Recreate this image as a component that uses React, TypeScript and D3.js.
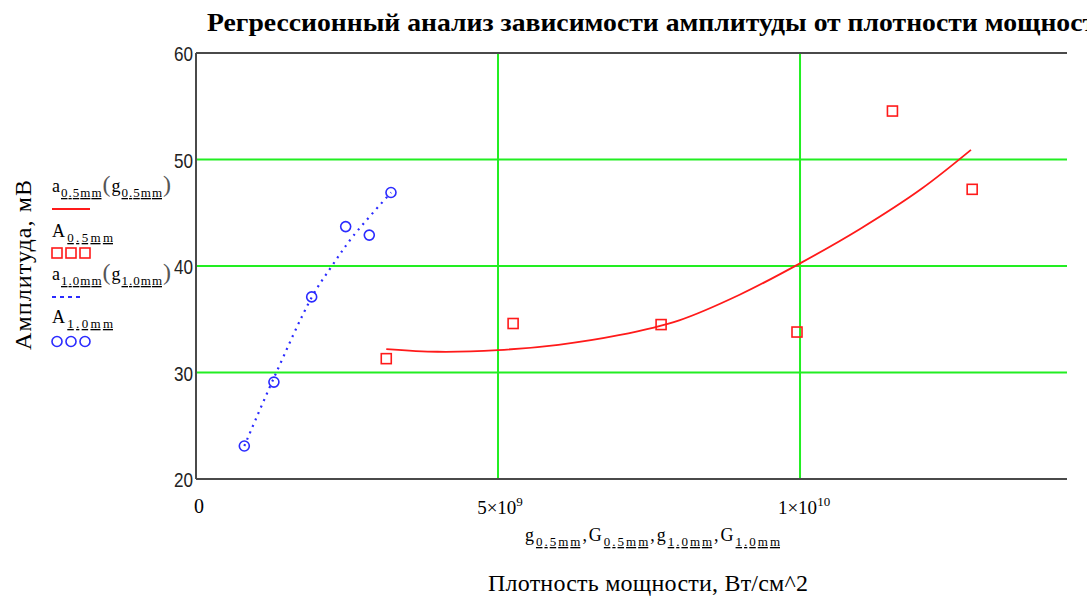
import React from "react";
import * as d3 from "d3";

// ---- data ----
const gHalf = [3.15e9, 5.25e9, 7.7e9, 9.95e9, 11.53e9, 12.85e9];
const AHalf = [31.3, 34.6, 34.5, 33.8, 54.55, 47.2];

const gOne = [0.8e9, 1.29e9, 1.915e9, 2.478e9, 2.869e9, 3.228e9];
const AOne = [23.1, 29.1, 37.1, 43.7, 42.9, 46.9];

// regression curves
const fitHalfG = [3.15, 4.0, 5.0, 6.0, 7.0, 8.0, 9.0, 10.0, 11.0, 12.0, 12.83].map((v) => v * 1e9);
const fitHalfA = [32.2, 31.95, 32.1, 32.6, 33.5, 34.9, 37.3, 40.25, 43.5, 47.2, 50.9];

const fitOneG = [0.8, 1.29, 1.92, 2.25, 2.6, 3.23].map((v) => v * 1e9);
const fitOneA = [23.1, 29.5, 37.1, 40.0, 42.8, 46.9];

const yTicks = [20, 30, 40, 50, 60];
const xGrid = [5e9, 1e10];
const yGrid = [30, 40, 50];

const title = "Регрессионный анализ зависимости амплитуды от плотности мощности";
const yLabel = "Амплитуда, мВ";
const xLabel = "Плотность мощности, Вт/см^2";

const W = 1087;
const H = 597;
const RED = "#ff1a1a";
const BLUE = "#2b2bff";
const GREEN = "#22ee22";
const AXIS = "#4a4a4a";
const SERIF = "'Liberation Serif', 'Times New Roman', serif";
const SANS = "'Liberation Sans', Arial, sans-serif";

const x = d3.scaleLinear().domain([0, 1.442e10]).range([196, 1067]);
const y = d3.scaleLinear().domain([20, 60]).range([479, 53]);

const line = d3
  .line<[number, number]>()
  .x((d) => x(d[0]))
  .y((d) => y(d[1]))
  .curve(d3.curveCatmullRom.alpha(0.5));

function Sub({ children }: { children: React.ReactNode }) {
  return (
    <tspan fontSize={13} dy={5} textDecoration="underline">
      {children}
    </tspan>
  );
}

export default function App() {
  const halfPts = fitHalfG.map((g, i) => [g, fitHalfA[i]] as [number, number]);
  const onePts = fitOneG.map((g, i) => [g, fitOneA[i]] as [number, number]);
  const legendX = [57, 71, 85];

  return (
    <svg
      width={W}
      height={H}
      style={{ position: "absolute", left: 0, top: 0, background: "#fff" }}
      fontFamily={SERIF}
    >
      <rect width={W} height={H} fill="#fff" />
      {/* title */}
      <text x={207} y={31} fontSize={25} fontWeight="bold" textLength={905} lengthAdjust="spacingAndGlyphs">
        {title}
      </text>

      {/* grid */}
      {yGrid.map((v) => (
        <line key={"gy" + v} x1={x(0)} x2={x(1.442e10)} y1={y(v)} y2={y(v)} stroke={GREEN} strokeWidth={2} />
      ))}
      {xGrid.map((v) => (
        <line key={"gx" + v} x1={x(v)} x2={x(v)} y1={y(60)} y2={y(20)} stroke={GREEN} strokeWidth={2} />
      ))}

      {/* axes frame */}
      <line x1={x(0)} x2={x(1.442e10)} y1={y(60)} y2={y(60)} stroke={AXIS} strokeWidth={2} />
      <line x1={x(0)} x2={x(1.442e10)} y1={y(20)} y2={y(20)} stroke={AXIS} strokeWidth={2} />
      <line x1={x(0)} x2={x(0)} y1={y(60)} y2={y(20)} stroke={AXIS} strokeWidth={2} />

      {/* y ticks */}
      {yTicks.map((v) => (
        <text
          key={"yt" + v}
          x={174}
          y={y(v) + 8}
          fontSize={21}
          fontFamily={SANS}
          fill="#222"
          textLength={19}
          lengthAdjust="spacingAndGlyphs"
        >
          {v}
        </text>
      ))}

      {/* x ticks */}
      <text x={x(0) + 3} y={513} fontSize={20} textAnchor="middle">0</text>
      <text x={x(5e9) + 2} y={514} fontSize={19} textAnchor="middle">
        5×10<tspan fontSize={13} dy={-8}>9</tspan>
      </text>
      <text x={x(1e10) + 4} y={514} fontSize={19} textAnchor="middle">
        1×10<tspan fontSize={13} dy={-8}>10</tspan>
      </text>

      {/* x axis labels */}
      <text x={525} y={541} fontSize={18} textLength={255} lengthAdjust="spacing">
        g<Sub>0.5mm</Sub>
        <tspan dy={-5}>,G</tspan>
        <Sub>0.5mm</Sub>
        <tspan dy={-5}>,g</tspan>
        <Sub>1.0mm</Sub>
        <tspan dy={-5}>,G</tspan>
        <Sub>1.0mm</Sub>
      </text>
      <text x={488} y={591} fontSize={24} textLength={320} lengthAdjust="spacing">
        {xLabel}
      </text>

      {/* y axis label */}
      <text transform="translate(31,265) rotate(-90)" fontSize={24} textAnchor="middle" textLength={170} lengthAdjust="spacing">
        {yLabel}
      </text>

      {/* legend */}
      <text x={52} y={192} fontSize={18} textLength={119} lengthAdjust="spacing">
        a<Sub>0.5mm</Sub>
        <tspan dy={-5} fontSize={24} fill="#555">(</tspan>
        <tspan>g</tspan>
        <Sub>0.5mm</Sub>
        <tspan dy={-5} fontSize={24} fill="#555">)</tspan>
      </text>
      <line x1={52} x2={90} y1={209} y2={209} stroke={RED} strokeWidth={2} />

      <text x={52} y={237} fontSize={18} textLength={61} lengthAdjust="spacing">
        A<Sub>0.5mm</Sub>
      </text>
      {legendX.map((cx) => (
        <rect key={"ls" + cx} x={cx - 5} y={248} width={10} height={10} fill="none" stroke={RED} strokeWidth={1.6} />
      ))}

      <text x={52} y={280} fontSize={18} textLength={119} lengthAdjust="spacing">
        a<Sub>1.0mm</Sub>
        <tspan dy={-5} fontSize={24} fill="#555">(</tspan>
        <tspan>g</tspan>
        <Sub>1.0mm</Sub>
        <tspan dy={-5} fontSize={24} fill="#555">)</tspan>
      </text>
      <line x1={52} x2={82} y1={297} y2={297} stroke={BLUE} strokeWidth={2} strokeDasharray="4,4" />

      <text x={52} y={323} fontSize={18} textLength={61} lengthAdjust="spacing">
        A<Sub>1.0mm</Sub>
      </text>
      {legendX.map((cx) => (
        <circle key={"lc" + cx} cx={cx} cy={341.5} r={5} fill="none" stroke={BLUE} strokeWidth={1.6} />
      ))}

      {/* regression curves */}
      <path d={line(halfPts) || ""} fill="none" stroke={RED} strokeWidth={1.8} />
      <path d={line(onePts) || ""} fill="none" stroke={BLUE} strokeWidth={2.2} strokeDasharray="2,5" />

      {/* data points */}
      {gHalf.map((g, i) => (
        <rect key={"s" + i} x={x(g) - 5} y={y(AHalf[i]) - 5} width={10} height={10} fill="none" stroke={RED} strokeWidth={1.6} />
      ))}
      {gOne.map((g, i) => (
        <circle key={"c" + i} cx={x(g)} cy={y(AOne[i])} r={5} fill="none" stroke={BLUE} strokeWidth={1.6} />
      ))}
    </svg>
  );
}
